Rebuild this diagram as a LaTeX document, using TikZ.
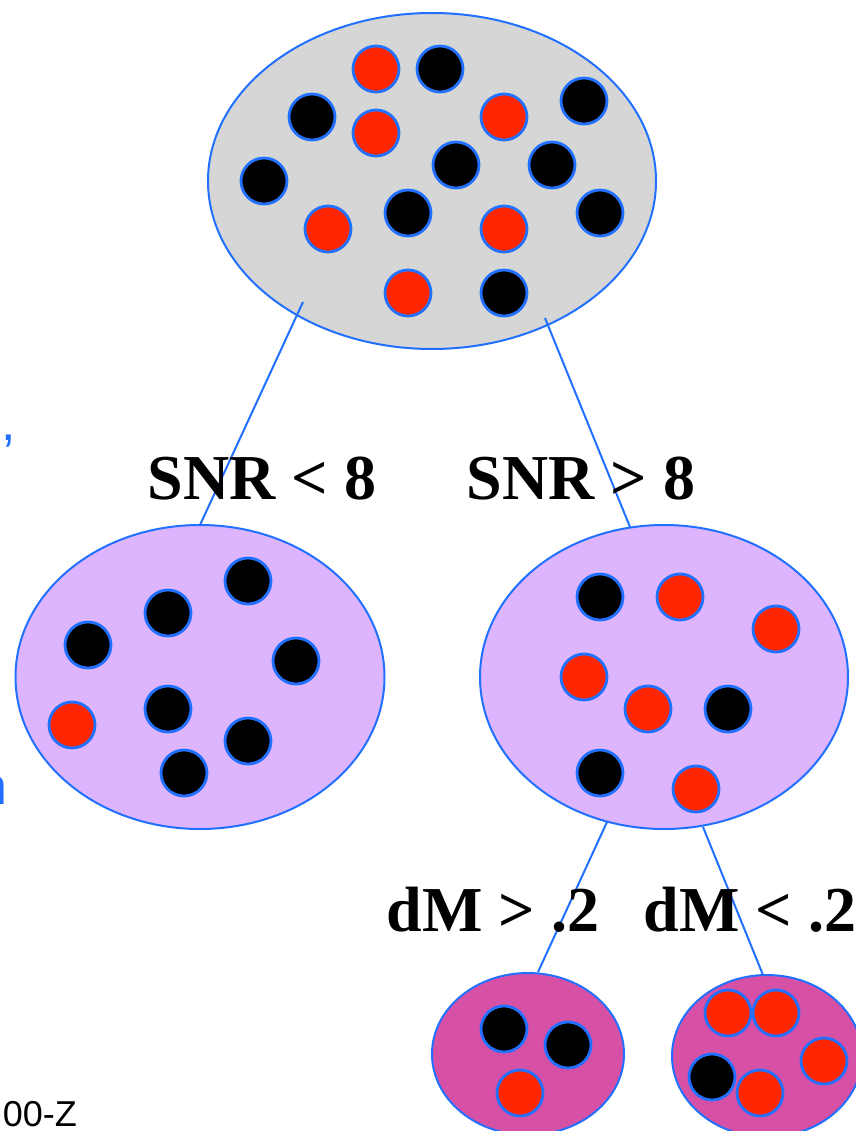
\documentclass[tikz,border=0pt]{standalone}
\usepackage{fontspec}
\setmainfont{Liberation Serif}
\newfontfamily\arialf{Liberation Sans}
\usetikzlibrary{shapes.geometric}
\definecolor{edgeblue}{RGB}{34,112,255}
\definecolor{rootgray}{RGB}{214,214,214}
\definecolor{lav}{RGB}{221,181,255}
\definecolor{magen}{RGB}{214,80,166}
\definecolor{ballred}{RGB}{255,38,0}
\tikzset{
  grp/.style={ellipse, draw=edgeblue, line width=2pt, inner sep=0pt},
  ball/.style={circle, draw=edgeblue, line width=2.8pt, minimum size=46pt, inner sep=0pt},
  rb/.style={ball, fill=ballred},
  bb/.style={ball, fill=black},
  conn/.style={draw=edgeblue, line width=2pt},
  lbl/.style={font=\fontsize{64}{70}\selectfont\bfseries, inner sep=0pt, anchor=base},
  side/.style={font=\arialf\fontsize{52}{56}\selectfont, text=edgeblue, inner sep=0pt, anchor=base west}
}
\begin{document}
\begin{tikzpicture}[x={(1pt,0)}, y={(0,-1pt)}]
\useasboundingbox (0,0) rectangle (855,1131);
% groups
\node[grp, fill=rootgray, minimum width=448pt, minimum height=336pt] (root) at (432,181) {};
\node[grp, fill=lav, minimum width=369pt, minimum height=304pt] (low) at (200,677) {};
\node[grp, fill=lav, minimum width=368pt, minimum height=304pt] (high) at (664,677) {};
\node[grp, fill=magen, minimum width=192pt, minimum height=162pt] (dmhi) at (528,1054) {};
\node[grp, fill=magen, minimum width=190pt, minimum height=162pt] (dmlo) at (767,1056) {};
% connector endpoints
\coordinate (r1) at (303,302);
\coordinate (r2) at (545,318);
\coordinate (l1) at (200,525);
\coordinate (h1) at (630,527);
\coordinate (h2) at (607,822);
\coordinate (h3) at (703,827);
\coordinate (d1) at (538,972);
\coordinate (d2) at (763,975);
\draw[conn] (r1) -- (l1);
\draw[conn] (r2) -- (h1);
\draw[conn] (h2) -- (d1);
\draw[conn] (h3) -- (d2);
% root balls
\node[rb] (a1) at (376,69) {};
\node[bb] (a2) at (440,69) {};
\node[bb] (a3) at (312,117) {};
\node[rb] (a4) at (376,133) {};
\node[rb] (a5) at (504,117) {};
\node[bb] (a6) at (584,101) {};
\node[bb] (a7) at (264,181) {};
\node[bb] (a8) at (456,165) {};
\node[bb] (a9) at (552,165) {};
\node[rb] (a10) at (328,229) {};
\node[bb] (a11) at (408,213) {};
\node[rb] (a12) at (504,229) {};
\node[bb] (a13) at (600,213) {};
\node[rb] (a14) at (408,293) {};
\node[bb] (a15) at (504,293) {};
% low SNR balls
\node[bb] (b1) at (248,581) {};
\node[bb] (b2) at (168,613) {};
\node[bb] (b3) at (88,645) {};
\node[bb] (b4) at (296,661) {};
\node[rb] (b5) at (72,725) {};
\node[bb] (b6) at (168,709) {};
\node[bb] (b7) at (248,741) {};
\node[bb] (b8) at (184,773) {};
% high SNR balls
\node[bb] (c1) at (600,597) {};
\node[rb] (c2) at (680,597) {};
\node[rb] (c3) at (776,629) {};
\node[rb] (c4) at (584,677) {};
\node[rb] (c5) at (648,709) {};
\node[bb] (c6) at (728,709) {};
\node[bb] (c7) at (600,773) {};
\node[rb] (c8) at (696,789) {};
% dM > .2 balls
\node[bb] (d1b) at (504,1029) {};
\node[bb] (d2b) at (568,1045) {};
\node[rb] (d3b) at (520,1093) {};
% dM < .2 balls
\node[rb] (e1) at (728,1013) {};
\node[rb] (e2) at (776,1013) {};
\node[rb] (e3) at (824,1061) {};
\node[bb] (e4) at (712,1077) {};
\node[rb] (e5) at (760,1093) {};
% labels
\node[lbl] (t1) at (262,499) {SNR < 8};
\node[lbl] (t2) at (581,499) {SNR > 8};
\node[lbl] (t3) at (493,931) {dM > .2};
\node[lbl] (t4) at (750,931) {dM < .2};
% cut-off side texts
\node[side] (s1) at (-28,440) {e,};
\node[side] (s2) at (-22,804) {n};
\node[font=\arialf\fontsize{36}{40}\selectfont, inner sep=0pt, anchor=base east] (s3) at (77,1126) {00-Z};
\end{tikzpicture}
\end{document}
